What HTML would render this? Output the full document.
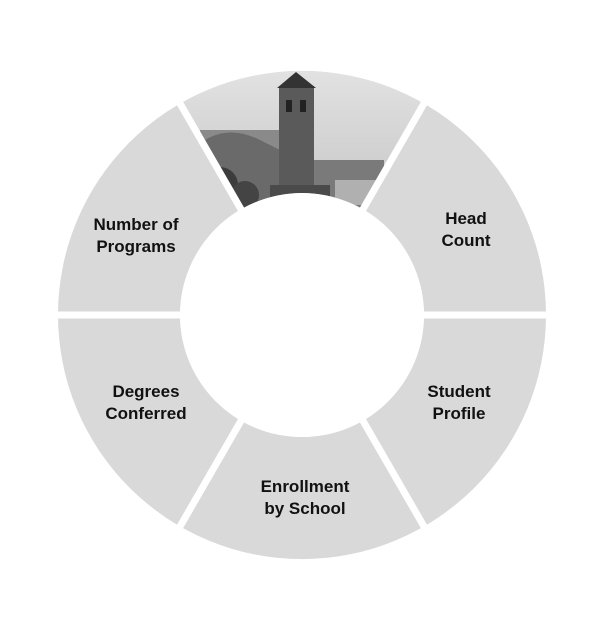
<!DOCTYPE html>
<html><head><style>
html,body{margin:0;padding:0;background:#fff;}
svg{display:block}
text{font-family:"Liberation Sans",sans-serif;font-weight:bold;font-size:17px;fill:#111;text-anchor:middle}
</style></head><body>
<svg width="605" height="630" viewBox="0 0 605 630">
<defs>
<clipPath id="top"><path d="M180,103.7 A244,244 0 0 1 424,103.7 L363,209.3 A122,122 0 0 0 241,209.3 Z"/></clipPath>
<linearGradient id="sky" x1="0" y1="0" x2="0" y2="1"><stop offset="0" stop-color="#e4e4e4"/><stop offset="1" stop-color="#c4c4c4"/></linearGradient>
</defs>
<path fill-rule="evenodd" fill="#d9d9d9" d="M58,315 A244,244 0 1 0 546,315 A244,244 0 1 0 58,315 Z M180,315 A122,122 0 1 1 424,315 A122,122 0 1 1 180,315 Z"/>
<g clip-path="url(#top)">
<rect x="170" y="60" width="270" height="160" fill="url(#sky)"/>
<rect x="200" y="130" width="90" height="90" fill="#8a8a8a"/>
<path d="M205,140 Q230,125 260,140 L280,150 L280,220 L200,220 Z" fill="#6a6a6a"/>
<circle cx="220" cy="185" r="18" fill="#3c3c3c"/>
<circle cx="245" cy="195" r="14" fill="#444"/>
<rect x="279" y="86" width="35" height="130" fill="#5a5a5a"/>
<polygon points="277,88 296,72 316,88" fill="#333"/>
<rect x="286" y="100" width="6" height="12" fill="#222"/>
<rect x="300" y="100" width="6" height="12" fill="#222"/>
<rect x="314" y="160" width="70" height="50" fill="#7a7a7a"/>
<rect x="335" y="180" width="45" height="25" fill="#b0b0b0"/>
<rect x="270" y="185" width="60" height="30" fill="#4a4a4a"/>
</g>
<g stroke="#fff" stroke-width="7">
<line x1="302" y1="315" x2="550" y2="315"/>
<line x1="302" y1="315" x2="54" y2="315"/>
<line x1="302" y1="315" x2="178" y2="100"/>
<line x1="302" y1="315" x2="426" y2="100"/>
<line x1="302" y1="315" x2="178" y2="530"/>
<line x1="302" y1="315" x2="426" y2="530"/>
</g>
<circle cx="302" cy="315" r="122" fill="#fff"/>
<text x="136" y="230">Number of</text><text x="136" y="252">Programs</text>
<text x="466" y="224">Head</text><text x="466" y="246">Count</text>
<text x="459" y="397">Student</text><text x="459" y="419">Profile</text>
<text x="146" y="397">Degrees</text><text x="146" y="419">Conferred</text>
<text x="305" y="492">Enrollment</text><text x="305" y="514">by School</text>
</svg>
</body></html>
